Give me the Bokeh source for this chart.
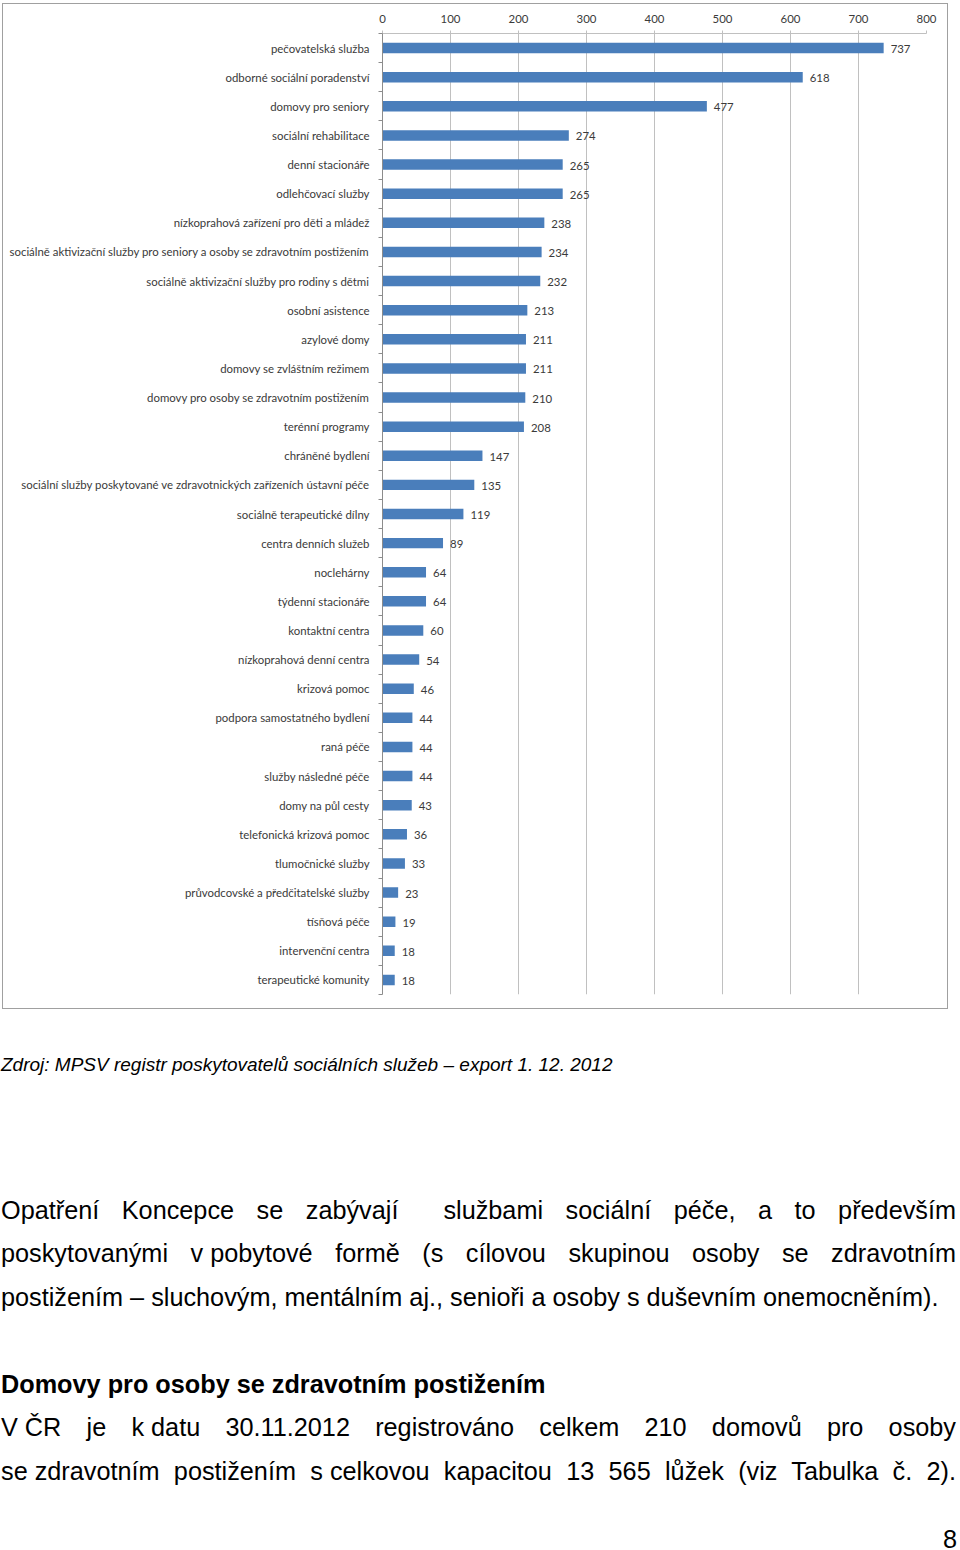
from bokeh.plotting import figure
from bokeh.models import FixedTicker, Range1d, ColumnDataSource, Div
from bokeh.layouts import column
from bokeh.core.properties import value
from bokeh.embed import file_html
from bokeh.resources import INLINE

categories = [
    "pečovatelská služba",
    "odborné sociální poradenství",
    "domovy pro seniory",
    "sociální rehabilitace",
    "denní stacionáře",
    "odlehčovací služby",
    "nízkoprahová zařízení pro děti a mládež",
    "sociálně aktivizační služby pro seniory a osoby se zdravotním postižením",
    "sociálně aktivizační služby pro rodiny s dětmi",
    "osobní asistence",
    "azylové domy",
    "domovy se zvláštním režimem",
    "domovy pro osoby se zdravotním postižením",
    "terénní programy",
    "chráněné bydlení",
    "sociální služby poskytované ve zdravotnických zařízeních ústavní péče",
    "sociálně terapeutické dílny",
    "centra denních služeb",
    "noclehárny",
    "týdenní stacionáře",
    "kontaktní centra",
    "nízkoprahová denní centra",
    "krizová pomoc",
    "podpora samostatného bydlení",
    "raná péče",
    "služby následné péče",
    "domy na půl cesty",
    "telefonická krizová pomoc",
    "tlumočnické služby",
    "průvodcovské a předčitatelské služby",
    "tísňová péče",
    "intervenční centra",
    "terapeutické komunity",
]
counts = [737, 618, 477, 274, 265, 265, 238, 234, 232, 213, 211, 211, 210, 208,
          147, 135, 119, 89, 64, 64, 60, 54, 46, 44, 44, 44, 43, 36, 33, 23, 19, 18, 18]
x_ticks = [0, 100, 200, 300, 400, 500, 600, 700, 800]

n = len(categories)
pos = list(range(n))
src = ColumnDataSource(dict(y=pos, v=counts, lbl=[str(c) for c in counts]))

CHART_FONT = "Lato"
FS = "11.4px"
TXT = "#3a3a3a"

p = figure(width=946, height=1006, output_backend="svg", toolbar_location=None,
           x_range=Range1d(x_ticks[0], x_ticks[-1]), y_range=Range1d(n - 0.5, -0.5),
           x_axis_location="above", min_border_left=379, min_border_right=23,
           min_border_top=29, min_border_bottom=16, margin=(3, 0, 0, 2))
p.styles = {"border": "1px solid #a0a0a0"}
p.outline_line_color = None
p.background_fill_color = "white"
p.border_fill_color = "white"

p.hbar(y="y", left=0, right="v", height=0.36, source=src, fill_color="#4a7ebb", line_color=None)
p.text(x="v", y="y", text="lbl", source=src, x_offset=7, y_offset=1, text_baseline="middle",
       text_font=value(CHART_FONT), text_font_size=FS, text_color=TXT)

xa = p.xaxis[0]
xa.ticker = FixedTicker(ticks=x_ticks)
xa.axis_line_color = "#c0c0c0"
xa.major_tick_line_color = "#c0c0c0"
xa.major_tick_out = 3
xa.major_tick_in = 0
xa.minor_tick_line_color = None
xa.major_label_standoff = 8
xa.major_label_text_font = CHART_FONT
xa.major_label_text_font_size = FS
xa.major_label_text_color = TXT

ya = p.yaxis[0]
ya.ticker = FixedTicker(ticks=pos, minor_ticks=[i - 0.5 for i in range(n + 1)])
ya.major_label_overrides = {i: c for i, c in enumerate(categories)}
ya.axis_line_color = "#8c8c8c"
ya.major_tick_line_color = None
ya.major_tick_out = 0
ya.major_tick_in = 0
ya.minor_tick_line_color = "#8c8c8c"
ya.minor_tick_out = 4
ya.minor_tick_in = 0
ya.major_label_standoff = 9
ya.major_label_text_font = CHART_FONT
ya.major_label_text_font_size = FS
ya.major_label_text_color = TXT

p.ygrid.grid_line_color = None
p.xgrid.grid_line_color = "#c0c0c0"

source_note = "Zdroj: MPSV registr poskytovatelů sociálních služeb – export 1. 12. 2012"
para1 = [
    "Opatření Koncepce se zabývají&nbsp; službami sociální péče, a to především",
    "poskytovanými <g>v pobytové</g> formě (s cílovou skupinou osoby se zdravotním",
]
para1_last = "postižením – sluchovým, mentálním aj., senioři a osoby s duševním onemocněním)."
heading = "Domovy pro osoby se zdravotním postižením"
para2 = [
    "<g>V ČR</g> je <g>k datu</g> 30.11.2012 registrováno celkem 210 domovů pro osoby",
    "<g>se zdravotním</g> postižením <g>s celkovou</g> kapacitou 13 565 lůžek (viz Tabulka č. 2).",
]
page_no = "8"

def grp(s):
    return s.replace("<g>", '<span style="display:inline-block;">').replace("</g>", "</span>")

FONT = "'Liberation Sans', Arial, sans-serif"
BODY = 25.25

def line(top, txt, justify=True, size=BODY, lh=30, extra=""):
    al = "text-align:justify;text-align-last:justify;" if justify else "text-align:left;white-space:nowrap;"
    return (f'<div style="position:absolute;left:1px;top:{top}px;width:955px;'
            f'font-family:{FONT};font-size:{size}px;line-height:{lh}px;color:#000;'
            f'{al}{extra}">{grp(txt)}</div>')

html = '<div style="position:relative;width:960px;height:541px;">'
html += line(44, source_note, justify=False, size=19, lh=24, extra="font-style:italic;")
html += line(186, para1[0])
html += line(229, para1[1])
html += line(273, para1_last, justify=False)
html += line(360, heading, justify=False, extra="font-weight:bold;")
html += line(403, para2[0])
html += line(447, para2[1])
html += (f'<div style="position:absolute;right:3px;top:515px;font-family:{FONT};'
         f'font-size:{BODY}px;line-height:30px;color:#000;">{page_no}</div>')
html += '</div>'

d = Div(text=html, width=960, height=541, margin=0)

layout = column(p, d, spacing=0)
open("out.html", "w").write(file_html(layout, INLINE))
